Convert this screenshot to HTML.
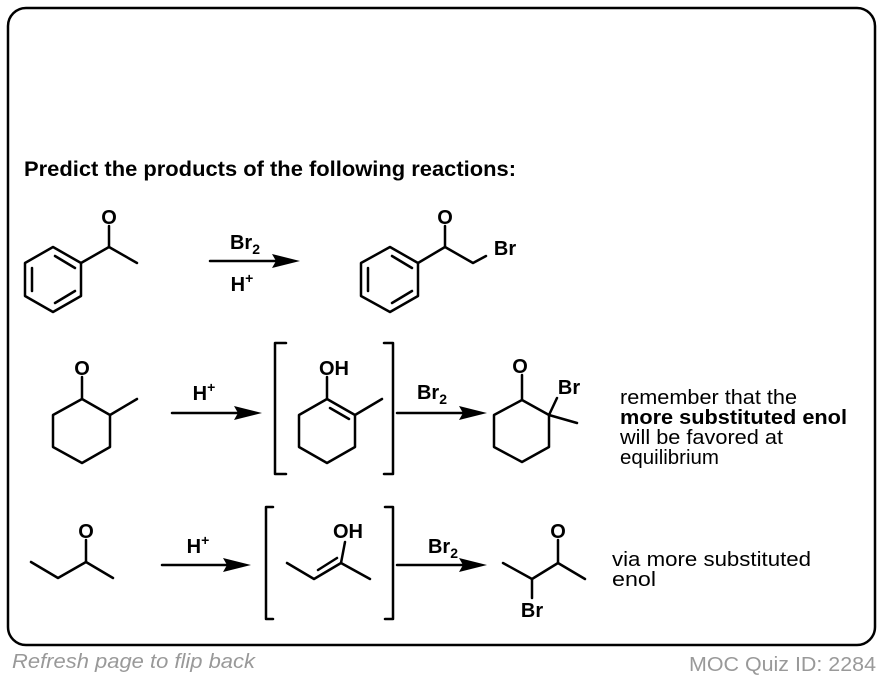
<!DOCTYPE html>
<html><head><meta charset="utf-8"><style>
body{margin:0;width:884px;height:678px;background:#fff;overflow:hidden;font-family:"Liberation Sans",Arial,sans-serif}
svg{position:absolute;left:0;top:0}
</style></head><body>
<svg width="884" height="678" viewBox="0 0 884 678" font-family="Liberation Sans, Arial, sans-serif">
<rect x="8" y="8" width="867" height="637" rx="18" fill="none" stroke="#000" stroke-width="2.5"/>
<text x="24" y="176" font-size="21.5" font-weight="bold" textLength="492" lengthAdjust="spacingAndGlyphs">Predict the products of the following reactions:</text>
<g fill="none" stroke="#000" stroke-width="2.5" stroke-linejoin="round" stroke-linecap="round">
<polygon points="53,247 81,263 81,296 53,312 25,296 25,263"/>
<line x1="32" y1="268" x2="32" y2="291"/><line x1="55" y1="256" x2="75" y2="268"/><line x1="55" y1="303" x2="75" y2="291"/>
<polyline points="81,263 109,247 137,263"/><line x1="109" y1="247" x2="109" y2="226"/>
<polygon points="390,247 418,263 418,296 390,312 361,296 361,263"/>
<line x1="368" y1="268" x2="368" y2="291"/><line x1="392" y1="256" x2="412" y2="268"/><line x1="392" y1="303" x2="412" y2="291"/>
<polyline points="418,263 445,247 473,263 486,256"/><line x1="445" y1="247" x2="445" y2="226"/>
<polygon points="82,399 110,415 110,447 82,463 53,447 53,415"/>
<line x1="82" y1="399" x2="82" y2="377"/><line x1="110" y1="415" x2="137" y2="399"/>
<polygon points="327,399 355,415 355,447 327,463 299,447 299,415"/>
<line x1="327" y1="399" x2="327" y2="377"/><line x1="355" y1="415" x2="382" y2="399"/>
<line x1="330" y1="408" x2="349" y2="419"/>
<polyline points="286,343 275,343 275,474 286,474"/><polyline points="384,343 393,343 393,474 384,474"/>
<polygon points="522,400 549,415 549,447 522,462 494,447 494,415"/>
<line x1="522" y1="400" x2="522" y2="375"/><line x1="549" y1="415" x2="557" y2="398"/><line x1="549" y1="415" x2="577" y2="423"/>
<polyline points="31,562 58,578 86,562 113,578"/><line x1="86" y1="562" x2="86" y2="540"/>
<polyline points="287,563 314,579 341,563 370,579"/><line x1="341" y1="563" x2="345" y2="542"/>
<line x1="318" y1="570" x2="337" y2="558"/>
<polyline points="273,507 266,507 266,619 273,619"/><polyline points="385,507 393,507 393,619 385,619"/>
<polyline points="503,563 532,579 558,563 585,579"/><line x1="558" y1="563" x2="558" y2="540"/><line x1="532" y1="579" x2="532" y2="598"/>
<line x1="210" y1="261" x2="285" y2="261"/><line x1="172" y1="413" x2="248" y2="413"/><line x1="397" y1="413" x2="472" y2="413"/>
<line x1="162" y1="565" x2="237" y2="565"/><line x1="397" y1="565" x2="472" y2="565"/>
</g>
<g fill="#000">
<polygon points="300,261 272,254 276,261 272,268"/>
<polygon points="262,413 234,406 238,413 234,420"/>
<polygon points="487,413 459,406 463,413 459,420"/>
<polygon points="251,565 223,558 227,565 223,572"/>
<polygon points="487,565 459,558 463,565 459,572"/>
</g>
<g font-size="20" font-weight="bold" text-anchor="middle">
<text x="109" y="224">O</text><text x="445" y="224">O</text>
<text x="505" y="255">Br</text>
<text x="245" y="249">Br<tspan font-size="14" dy="5">2</tspan></text>
<text x="242" y="291">H<tspan font-size="14" dy="-8">+</tspan></text>
<text x="82" y="375">O</text>
<text x="204" y="400">H<tspan font-size="14" dy="-8">+</tspan></text>
<text x="334" y="375">OH</text>
<text x="432" y="399">Br<tspan font-size="14" dy="5">2</tspan></text>
<text x="520" y="373">O</text><text x="569" y="394">Br</text>
<text x="86" y="538">O</text>
<text x="198" y="553">H<tspan font-size="14" dy="-8">+</tspan></text>
<text x="348" y="538">OH</text>
<text x="443" y="553">Br<tspan font-size="14" dy="5">2</tspan></text>
<text x="558" y="538">O</text><text x="532" y="617">Br</text>
</g>
<g font-size="20.5" lengthAdjust="spacingAndGlyphs">
<text x="620" y="404" textLength="177" lengthAdjust="spacingAndGlyphs">remember that the</text>
<text x="620" y="424" font-weight="bold" textLength="227" lengthAdjust="spacingAndGlyphs">more substituted enol</text>
<text x="620" y="444" textLength="163" lengthAdjust="spacingAndGlyphs">will be favored at</text>
<text x="620" y="464" textLength="99" lengthAdjust="spacingAndGlyphs">equilibrium</text>
<text x="612" y="566" textLength="199" lengthAdjust="spacingAndGlyphs">via more substituted</text>
<text x="612" y="586" textLength="44" lengthAdjust="spacingAndGlyphs">enol</text>
</g>
<text x="12" y="668" font-size="20" font-style="italic" fill="#999" textLength="243" lengthAdjust="spacingAndGlyphs">Refresh page to flip back</text>
<text x="689" y="671" font-size="20" fill="#999" textLength="187" lengthAdjust="spacingAndGlyphs">MOC Quiz ID: 2284</text>
</svg>
</body></html>
